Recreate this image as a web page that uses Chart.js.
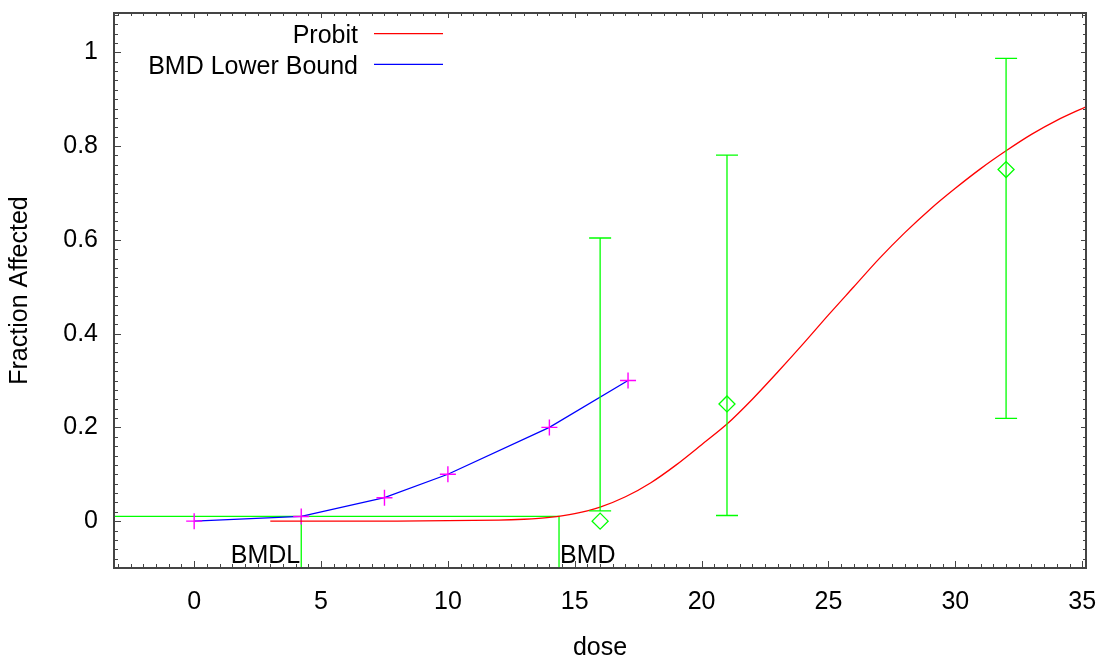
<!DOCTYPE html>
<html>
<head>
<meta charset="utf-8">
<script src="https://cdn.jsdelivr.net/npm/chart.js@4/dist/chart.umd.min.js"></script>
<style>
	html, body { margin: 0; padding: 0; background: #fff; }
	#wrap { width: 1099px; height: 658px; }
</style>
</head>
<body>
<div id="wrap"><canvas id="chartcanvas" width="1099" height="658"></canvas></div>
<script>
// probit fit
var probitDose = [3, 5, 8, 10, 12, 13, 14, 15, 16, 17, 18, 19, 20, 21, 22, 23, 24, 25, 26, 27, 28, 29, 30, 31, 32, 33, 34, 35.15];
var probitFrac = [0, 0, 0, 0.001, 0.002, 0.004, 0.008, 0.016, 0.03, 0.052, 0.082, 0.12, 0.163, 0.207, 0.26, 0.318, 0.378, 0.44, 0.5, 0.56, 0.615, 0.665, 0.71, 0.752, 0.79, 0.825, 0.855, 0.884];

// BMD lower bound curve
var lowerDose = [0, 4.22, 7.5, 10, 14, 17.1];
var lowerFrac = [0, 0.01, 0.05, 0.1, 0.2, 0.3];

// observed data with confidence limits
var obsDose = [16, 21, 32];
var obsFrac = [0, 0.25, 0.75];
var obsLow = [0.022, 0.012, 0.219];
var obsHigh = [0.604, 0.781, 0.987];

// benchmark dose
var bmr = 0.01;
var bmd = 14.38;
var bmdl = 4.22;

var xMin = -3.16, xMax = 35.15;
var yMin = -0.1, yMax = 1.084;
var xTicks = [0, 5, 10, 15, 20, 25, 30, 35];
var yTicks = [0, 0.2, 0.4, 0.6, 0.8, 1];

function pts(xs, ys) {
	var out = [];
	for (var i = 0; i < xs.length; i++) out.push({x: xs[i], y: ys[i]});
	return out;
}

Chart.defaults.font.family = "'Liberation Sans', Arial, sans-serif";
Chart.defaults.font.size = 25;
Chart.defaults.color = "#000";

var frameColor = "#444";

var extrasPlugin = {
	id: "extras",
	afterDatasetsDraw: function(chart) {
		var ctx = chart.ctx;
		var xs = chart.scales.x, ys = chart.scales.y;
		var a = chart.chartArea;

		// error bars
		ctx.save();
		ctx.beginPath();
		ctx.rect(a.left, a.top, a.right - a.left, a.bottom - a.top);
		ctx.clip();
		ctx.strokeStyle = "#00ff00";
		ctx.lineWidth = 1.3;
		for (var i = 0; i < obsDose.length; i++) {
			var px = xs.getPixelForValue(obsDose[i]);
			var lo = ys.getPixelForValue(obsLow[i]);
			var hi = ys.getPixelForValue(obsHigh[i]);
			ctx.beginPath();
			ctx.moveTo(px, lo); ctx.lineTo(px, hi);
			ctx.moveTo(px - 11, lo); ctx.lineTo(px + 11, lo);
			ctx.moveTo(px - 11, hi); ctx.lineTo(px + 11, hi);
			ctx.stroke();
		}
		ctx.restore();

		// BMDL / BMD labels
		ctx.save();
		ctx.font = "25px 'Liberation Sans', Arial, sans-serif";
		ctx.fillStyle = "#000";
		ctx.textBaseline = "alphabetic";
		ctx.textAlign = "right";
		ctx.fillText("BMDL", xs.getPixelForValue(bmdl) - 1, a.bottom - 5);
		ctx.textAlign = "left";
		ctx.fillText("BMD", xs.getPixelForValue(bmd) + 1, a.bottom - 5);
		ctx.restore();

		// frame with inward ticks on all four sides
		ctx.save();
		ctx.strokeStyle = frameColor;
		ctx.lineWidth = 1;
		ctx.beginPath();
		var v, p, major;
		for (v = Math.ceil(xMin / 0.5) * 0.5; v <= xMax + 1e-9; v += 0.5) {
			p = Math.round(xs.getPixelForValue(v)) + 0.5;
			major = Math.abs(v / 5 - Math.round(v / 5)) < 1e-6;
			ctx.moveTo(p, a.bottom); ctx.lineTo(p, a.bottom - (major ? 7 : 4));
			ctx.moveTo(p, a.top); ctx.lineTo(p, a.top + (major ? 5 : 3));
		}
		for (v = Math.ceil(yMin / 0.02) * 0.02; v <= yMax + 1e-9; v += 0.02) {
			p = Math.round(ys.getPixelForValue(v)) + 0.5;
			major = Math.abs(v / 0.2 - Math.round(v / 0.2)) < 1e-6;
			ctx.moveTo(a.left, p); ctx.lineTo(a.left + (major ? 7 : 4), p);
			ctx.moveTo(a.right, p); ctx.lineTo(a.right - (major ? 5 : 3), p);
		}
		ctx.stroke();
		ctx.lineWidth = 2;
		ctx.strokeRect(a.left, a.top, a.right - a.left, a.bottom - a.top);
		ctx.restore();

		// legend: text on the left, line sample on the right
		ctx.save();
		ctx.font = "25px 'Liberation Sans', Arial, sans-serif";
		ctx.textAlign = "right";
		ctx.textBaseline = "alphabetic";
		for (var k = 0; k < 2; k++) {
			var ds = chart.data.datasets[k];
			var base = a.top + 30 + k * 30.6;
			ctx.fillStyle = "#000";
			ctx.fillText(ds.label, a.left + 244, base);
			ctx.strokeStyle = ds.borderColor;
			ctx.lineWidth = 1.3;
			ctx.beginPath();
			ctx.moveTo(a.left + 260, base - 9.3);
			ctx.lineTo(a.left + 329, base - 9.3);
			ctx.stroke();
		}
		ctx.restore();
	}
};

var ctx = document.getElementById("chartcanvas");

var chart = new Chart(ctx, {
	type: "scatter",
	data: {
		datasets: [
			{
				label: "Probit",
				data: pts(probitDose, probitFrac),
				showLine: true,
				borderColor: "#ff0000",
				borderWidth: 1.3,
				tension: 0.3,
				pointRadius: 0
			},
			{
				label: "BMD Lower Bound",
				data: pts(lowerDose, lowerFrac),
				showLine: true,
				borderColor: "#0000ff",
				borderWidth: 1.3,
				pointStyle: "cross",
				pointRadius: 8,
				pointBorderColor: "#ff00ff",
				pointBackgroundColor: "#ff00ff",
				pointBorderWidth: 1.4
			},
			{
				label: "Observed",
				data: pts(obsDose, obsFrac),
				showLine: false,
				pointStyle: "rectRot",
				pointRadius: 8,
				borderColor: "#00ff00",
				backgroundColor: "rgba(0,0,0,0)",
				borderWidth: 1.3
			},
			{
				label: "BMD line",
				data: pts([xMin, bmd, bmd], [bmr, bmr, yMin]),
				showLine: true,
				borderColor: "#00ff00",
				borderWidth: 1.3,
				pointRadius: 0
			},
			{
				label: "BMDL line",
				data: pts([bmdl, bmdl], [bmr, yMin]),
				showLine: true,
				borderColor: "#00ff00",
				borderWidth: 1.3,
				pointRadius: 0
			}
		]
	},
	options: {
		responsive: false,
		animation: false,
		layout: { padding: { top: 13, right: 13, left: 0, bottom: 0 } },
		plugins: {
			legend: { display: false },
			tooltip: { enabled: false }
		},
		scales: {
			x: {
				type: "linear",
				min: xMin,
				max: xMax,
				grid: { display: false },
				border: { display: false },
				afterFit: function(s) {
					s.height = 90;
					s.paddingLeft = 0;
					s.paddingRight = 0;
				},
				afterBuildTicks: function(s) {
					s.ticks = xTicks.map(function(v) { return {value: v}; });
				},
				ticks: { padding: 11, autoSkip: false, maxRotation: 0 },
				title: {
					display: true,
					text: "dose",
					font: { size: 25, lineHeight: 0.8 },
					padding: { top: 0, bottom: 0 }
				}
			},
			y: {
				type: "linear",
				min: yMin,
				max: yMax,
				grid: { display: false },
				border: { display: false },
				afterFit: function(s) {
					s.width = 114;
					s.paddingTop = 0;
					s.paddingBottom = 0;
				},
				afterBuildTicks: function(s) {
					s.ticks = yTicks.map(function(v) { return {value: v}; });
				},
				ticks: {
					padding: 8,
					callback: function(v) { return String(+v.toFixed(2)); }
				},
				title: {
					display: true,
					text: "Fraction Affected",
					font: { size: 25, lineHeight: 1 },
					padding: { top: 8, bottom: 0 }
				}
			}
		}
	},
	plugins: [extrasPlugin]
});
</script>
</body>
</html>
